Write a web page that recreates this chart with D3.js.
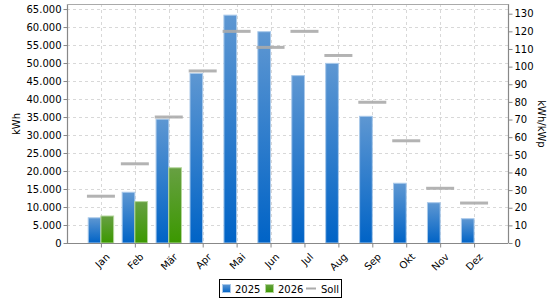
<!DOCTYPE html>
<html><head><meta charset="utf-8">
<script src="https://cdn.jsdelivr.net/npm/d3@7"></script>
<style>
body{margin:0;background:#fff;}
svg{font-family:"DejaVu Sans",sans-serif;}
</style></head><body>
<svg id="c" width="560" height="300"></svg>
<script>
const months = ["Jan","Feb","Mär","Apr","Mai","Jun","Jul","Aug","Sep","Okt","Nov","Dez"];
const y2025 = [7000,14100,34400,47100,63300,58700,46500,49900,35200,16600,11200,6750];
const y2026 = [7500,11500,20900,null,null,null,null,null,null,null,null,null];
const soll = [13000,22000,35000,47800,58800,54350,58800,52100,39100,28400,15200,11100];
const leftTicks = [0,5000,10000,15000,20000,25000,30000,35000,40000,45000,50000,55000,60000,65000];
const rightTicks = [0,10,20,30,40,50,60,70,80,90,100,110,120,130];
const seriesNames = ["2025","2026","Soll"];

const svg = d3.select("#c");
const L=67,R=508,T=4,B=243;
const x = d3.scaleLinear().domain([0,13]).range([L,R]);
const yL = d3.scaleLinear().domain([0,66400]).range([B,T]);
const yR = d3.scaleLinear().domain([0,135.5]).range([B,T]);
const fmt = d => d3.format(",")(d).replace(/,/g,".");

const defs = svg.append("defs");
function grad(id,c1,c2){
  const g=defs.append("linearGradient").attr("id",id).attr("x1",0).attr("y1",0).attr("x2",0).attr("y2",1);
  g.append("stop").attr("offset","0%").attr("stop-color",c1);
  g.append("stop").attr("offset","100%").attr("stop-color",c2);
}
grad("gb","#5e97d2","#0063c6");
grad("gg","#67a042","#3b9800");

// grid
const grid = svg.append("g");
grid.selectAll(".h").data(leftTicks).enter().append("line")
  .attr("x1",L).attr("x2",R).attr("y1",d=>Math.round(yL(d))+0.5).attr("y2",d=>Math.round(yL(d))+0.5)
  .attr("stroke","#d8d8d8").attr("stroke-dasharray","3,3");
grid.selectAll(".v").data(months).enter().append("line")
  .attr("x1",(d,i)=>Math.round(x(i+1))+0.5).attr("x2",(d,i)=>Math.round(x(i+1))+0.5).attr("y1",T).attr("y2",B)
  .attr("stroke","#d8d8d8").attr("stroke-dasharray","3,3");

// bars
const bw = 12.7;
svg.append("g").selectAll("rect").data(y2025).enter().append("rect")
  .attr("x",(d,i)=>x(i+1)-bw).attr("width",bw)
  .attr("y",d=>yL(d)).attr("height",d=>B-yL(d))
  .attr("fill","url(#gb)").attr("stroke","#a9c9ea").attr("stroke-width",1);
svg.append("g").selectAll("rect").data(y2026.map((v,i)=>({v,i})).filter(d=>d.v!=null)).enter().append("rect")
  .attr("x",d=>x(d.i+1)).attr("width",bw)
  .attr("y",d=>yL(d.v)).attr("height",d=>B-yL(d.v))
  .attr("fill","url(#gg)").attr("stroke","#b3d69a").attr("stroke-width",1);

// soll
svg.append("g").selectAll("line").data(soll).enter().append("line")
  .attr("x1",(d,i)=>x(i+1)-14).attr("x2",(d,i)=>x(i+1)+14)
  .attr("y1",d=>yL(d)).attr("y2",d=>yL(d))
  .attr("stroke","#ababab").attr("stroke-width",3).attr("stroke-opacity",0.9);

// axes
const axCol="#888";
const gl = svg.append("g").attr("transform",`translate(${L+0.5},0)`)
  .call(d3.axisLeft(yL).tickValues(leftTicks).tickFormat(fmt).tickSize(4).tickPadding(2));
const gr = svg.append("g").attr("transform",`translate(${R+0.5},0)`)
  .call(d3.axisRight(yR).tickValues(rightTicks).tickSize(4).tickPadding(2));
const gx = svg.append("g").attr("transform",`translate(0,${B+0.5})`)
  .call(d3.axisBottom(x).tickValues(d3.range(1,13)).tickFormat(d=>months[d-1]).tickSize(4));
[gl,gr,gx].forEach(g=>{
  g.selectAll("path").attr("stroke",axCol).attr("stroke-width",1.2);
  g.selectAll("line").attr("stroke",axCol);
  g.selectAll("text").attr("fill","#000").style("font-size","10px").style("font-family","DejaVu Sans");
});
gl.select(".domain").attr("d",`M-0,${T}V${B}`);
gr.select(".domain").attr("d",`M0,${T}V${B}`);
gx.select(".domain").attr("d",`M${L},0H${R}`);
gx.selectAll("text").attr("text-anchor","end").attr("dy",null).attr("y",0)
  .attr("transform","translate(9,14) rotate(-45)");
// top border
svg.append("line").attr("x1",L).attr("x2",R+0.5).attr("y1",T+0.5).attr("y2",T+0.5).attr("stroke","#aaa").attr("stroke-width",1.2);

// axis titles
svg.append("text").attr("transform","translate(20,124) rotate(-90)").attr("text-anchor","middle")
  .style("font-size","10px").text("kWh");
svg.append("text").attr("transform","translate(538,124) rotate(90)").attr("text-anchor","middle")
  .style("font-size","10px").text("kWh/kWp");

// legend
const lg = svg.append("g");
lg.append("rect").attr("x",219.5).attr("y",279.5).attr("width",122).attr("height",18)
  .attr("fill","#fff").attr("stroke","#000");
lg.append("rect").attr("x",222.5).attr("y",284.5).attr("width",8).attr("height",8).attr("fill","url(#gb)").attr("stroke","#a9c9ea");
lg.append("text").attr("x",235).attr("y",292.5).style("font-size","10px").text(seriesNames[0]);
lg.append("rect").attr("x",265.5).attr("y",284.5).attr("width",8).attr("height",8).attr("fill","url(#gg)").attr("stroke","#b3d69a");
lg.append("text").attr("x",278).attr("y",292.5).style("font-size","10px").text(seriesNames[1]);
lg.append("line").attr("x1",306).attr("x2",316).attr("y1",288.5).attr("y2",288.5).attr("stroke","#ababab").attr("stroke-width",2);
lg.append("text").attr("x",321).attr("y",292.5).style("font-size","10px").text(seriesNames[2]);
</script></body></html>
